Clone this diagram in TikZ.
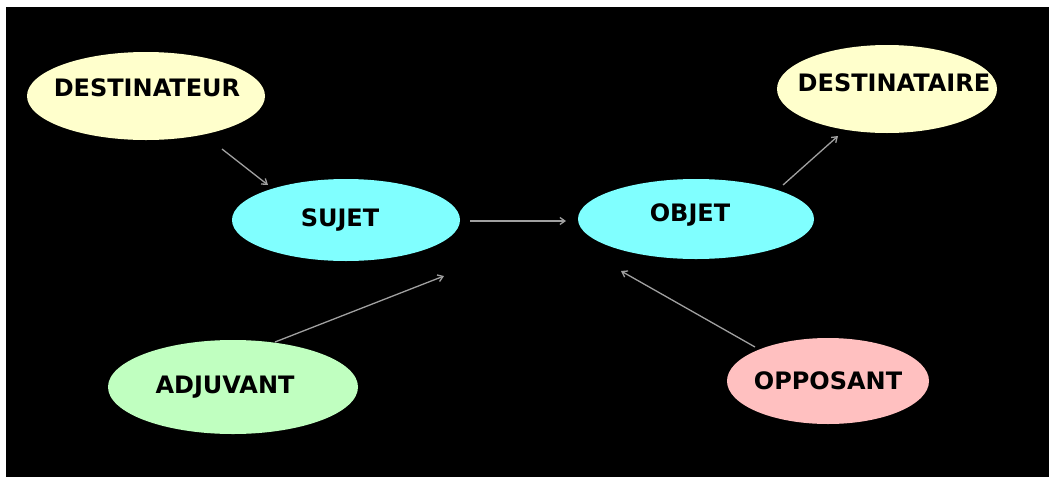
\documentclass[tikz,border=0pt]{standalone}
\usepackage{fontspec}
\setmainfont{DejaVu Sans}
\usetikzlibrary{shapes.geometric,arrows.meta}
\definecolor{ylw}{HTML}{FFFFCC}
\definecolor{cyn}{HTML}{80FFFF}
\definecolor{grn}{HTML}{C0FFC0}
\definecolor{pnk}{HTML}{FFC0C0}
\definecolor{lnk}{HTML}{A0A0A0}
\tikzset{
  ell/.style={ellipse, draw=none, inner sep=0pt},
  lab/.style={font=\fontsize{24}{26}\selectfont\bfseries, text=black, inner sep=0pt},
  conn/.style={draw=lnk, line width=1.3pt, -{Straight Barb[length=5pt,width=7pt]}}
}
\begin{document}
\begin{tikzpicture}[x=1pt,y=-1pt]
\useasboundingbox (0,0) rectangle (1049,477);
\fill[white] (0,0) rectangle (1049,477);
\fill[black] (6,7) rectangle (1049,477);
% ellipses
\node[ell, fill=ylw, minimum width=238pt, minimum height=88pt] (dr) at (146,96) {};
\node[ell, fill=ylw, minimum width=220pt, minimum height=88pt] (da) at (887,89) {};
\node[ell, fill=cyn, minimum width=228pt, minimum height=82pt] (sj) at (346,220) {};
\node[ell, fill=cyn, minimum width=236pt, minimum height=80pt] (ob) at (696,219) {};
\node[ell, fill=grn, minimum width=250pt, minimum height=94pt] (ad) at (233,387) {};
\node[ell, fill=pnk, minimum width=202pt, minimum height=86pt] (op) at (828,381) {};
% labels
\node[lab] (tdr) at (147,88) {DESTINATEUR};
\node[lab] (tda) at (894,83) {DESTINATAIRE};
\node[lab] (tsj) at (340,220) {SUJET};
\node[lab] (tob) at (690,215) {OBJET};
\node[lab] (tad) at (225,387) {ADJUVANT};
\node[lab] (top) at (828,381) {OPPOSANT};
% connector ends
\coordinate (a1) at (222,149); \coordinate (b1) at (268,185);
\coordinate (a2) at (470,221); \coordinate (b2) at (566,221);
\coordinate (a3) at (783,185); \coordinate (b3) at (838,136);
\coordinate (a4) at (275,342); \coordinate (b4) at (444,276);
\coordinate (a5) at (755,347); \coordinate (b5) at (621,271);
\draw[conn] (a1) -- (b1);
\draw[conn] (a2) -- (b2);
\draw[conn] (a3) -- (b3);
\draw[conn] (a4) -- (b4);
\draw[conn] (a5) -- (b5);
\end{tikzpicture}
\end{document}
